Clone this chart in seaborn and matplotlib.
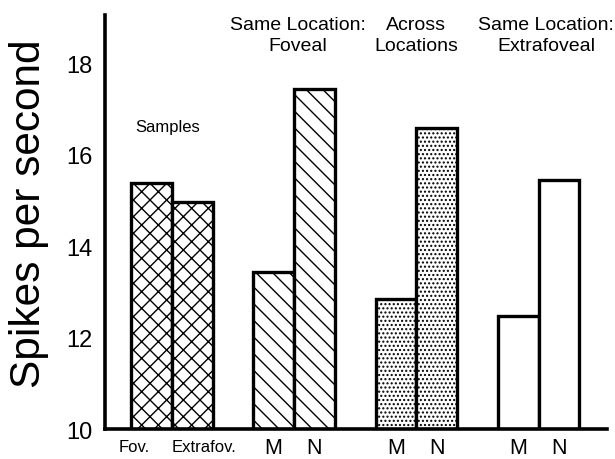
import matplotlib
matplotlib.use('Agg')
import matplotlib.pyplot as plt
import matplotlib.transforms as mtransforms
import seaborn as sns
import pandas as pd

# ---- data ----
groups = ['Samples', 'Same Location:\nFoveal', 'Across\nLocations', 'Same Location:\nExtrafoveal']
sub_labels = [['Fov.', 'Extrafov.'], ['M', 'N'], ['M', 'N'], ['M', 'N']]
first_vals = [15.37, 13.43, 12.85, 12.48]
second_vals = [14.97, 17.44, 16.59, 15.44]
yticks = [10, 12, 14, 16, 18]
ylabel = 'Spikes per second'

sns.set_theme(style='white')
plt.rcParams['font.family'] = ['Liberation Sans', 'DejaVu Sans']
plt.rcParams['hatch.linewidth'] = 1.0

df = pd.DataFrame({
    'group': groups * 2,
    'pos': ['first'] * len(groups) + ['second'] * len(groups),
    'value': first_vals + second_vals,
})

fig = plt.figure(figsize=(6.15, 4.6), dpi=100)
ax = fig.add_axes([0.171, 0.065, 0.816, 0.9])

sns.barplot(data=df, x='group', y='value', hue='pos', order=groups,
            hue_order=['first', 'second'], width=0.667, ax=ax, legend=False,
            palette=['white', 'white'], saturation=1,
            edgecolor='black', linewidth=2.4, errorbar=None)

hatch_styles = ['xx', '\\\\', '....', '']
for p in ax.patches:
    cx = p.get_x() + p.get_width() / 2
    g = int(round(cx))
    p.set_hatch(hatch_styles[g])
    p.set_facecolor('white')
    p.set_edgecolor('black')
    p.set_linewidth(2.4)

ax.set_ylim(10, 19.05)
ax.set_xlim(-0.545, 3.56)
ax.set_yticks(yticks)
ax.set_yticklabels([str(t) for t in yticks])
ax.tick_params(axis='y', direction='in', length=5, width=2, labelsize=17, pad=9, colors='black')
ax.set_xticks([])
ax.set_xlabel('')
ax.set_ylabel('')
for s in ['top', 'right']:
    ax.spines[s].set_visible(False)
for s in ['left', 'bottom']:
    ax.spines[s].set_linewidth(2.6)
    ax.spines[s].set_color('black')

# bar labels below axis
trans = mtransforms.blended_transform_factory(ax.transData, ax.transAxes)
sample_label_x = [-0.31, 0.265]
for gi, labs in enumerate(sub_labels):
    for k, lab in enumerate(labs):
        if gi == 0:
            ax.text(sample_label_x[k], -0.025, lab, transform=trans, ha='center', va='top',
                    fontsize=12, color='black')
        else:
            x = gi + (-0.1667 if k == 0 else 0.1667)
            ax.text(x, -0.02, lab, transform=trans, ha='center', va='top',
                    fontsize=15.5, color='black')

# group headers
header_dx = [0, 0.03, 0.0, 0.06]
for gi, g in enumerate(groups):
    if gi == 0:
        ax.text(-0.03, 16.62, g, ha='center', va='center', fontsize=12, color='black')
    else:
        ax.text(gi + header_dx[gi], 18.62, g, ha='center', va='center',
                fontsize=14, color='black', multialignment='center', linespacing=1.3)

fig.text(29 / 615, 1 - 214 / 460, ylabel, rotation=90, ha='center', va='center',
         fontsize=30.5, color='black')

fig.savefig('out.png', dpi=100, facecolor='white')
